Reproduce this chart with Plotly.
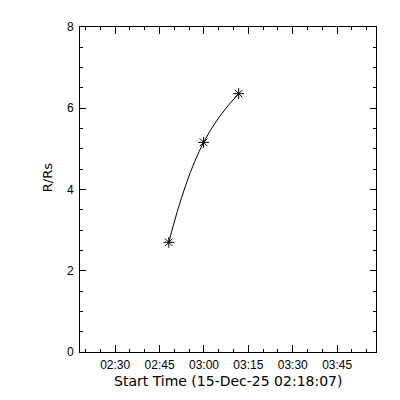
import plotly.graph_objects as go

# Data
times = ["2025-12-15 02:48:07", "2025-12-15 02:59:52", "2025-12-15 03:11:43"]
heights = [2.70, 5.16, 6.36]
x_range = ["2025-12-15 02:18:07", "2025-12-15 03:58:07"]
x_tick0 = "2025-12-15 02:30:00"
y_ticks = [0, 2, 4, 6, 8]
x_title = "Start Time (15-Dec-25 02:18:07)"
y_title = "R/Rs"

fig = go.Figure()
fig.add_trace(go.Scatter(
    x=times, y=heights, mode="lines+markers",
    line=dict(color="black", width=1, shape="spline", smoothing=1.3),
    marker=dict(symbol="asterisk-open", size=9, color="black",
                line=dict(color="black", width=1)),
    showlegend=False, hoverinfo="skip",
))

tickfont = dict(family="Liberation Sans, Arial, sans-serif", size=12, color="black")

fig.update_layout(
    width=400, height=400,
    margin=dict(l=72, r=32, t=16, b=56, pad=0),
    paper_bgcolor="white", plot_bgcolor="white",
    xaxis=dict(
        type="date", range=x_range,
        tick0=x_tick0, dtick=900000, tickformat="%H:%M",
        ticks="inside", ticklen=7, tickwidth=1, tickcolor="black",
        showline=True, linecolor="black", linewidth=1, mirror="ticks",
        showgrid=False, zeroline=False, tickfont=tickfont,
        ticklabelstandoff=2,
        minor=dict(tick0=x_tick0, dtick=300000, ticks="inside", ticklen=3,
                   tickwidth=1, tickcolor="black", showgrid=False),
    ),
    yaxis=dict(
        range=[0, 8], tickmode="array", tickvals=y_ticks,
        ticktext=[str(v) for v in y_ticks],
        ticks="inside", ticklen=6, tickwidth=1, tickcolor="black",
        showline=True, linecolor="black", linewidth=1, mirror="ticks",
        showgrid=False, zeroline=False, tickfont=tickfont,
        ticklabelstandoff=3,
        minor=dict(dtick=0.5, tick0=0, ticks="inside", ticklen=3,
                   tickwidth=1, tickcolor="black", showgrid=False),
    ),
    annotations=[
        dict(text=x_title, xref="paper", yref="paper", x=0.5, y=-0.09,
             xanchor="center", yanchor="middle", showarrow=False,
             font=dict(family="DejaVu Sans, sans-serif", size=14, color="black")),
        dict(text=y_title, xref="paper", yref="paper", x=-0.111, y=0.535,
             xanchor="center", yanchor="middle", showarrow=False, textangle=-90,
             font=dict(family="DejaVu Sans, sans-serif", size=13, color="black")),
    ],
)

fig.write_html("out.html")
